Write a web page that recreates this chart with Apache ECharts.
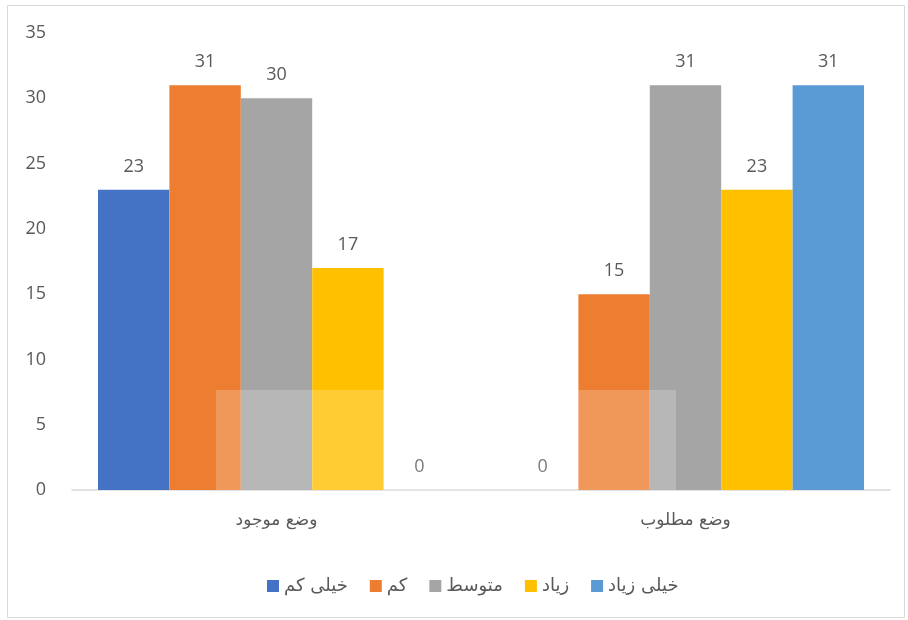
<!DOCTYPE html>
<html>
<head>
<meta charset="utf-8">
<script src="https://cdn.jsdelivr.net/npm/echarts@6/dist/echarts.min.js"></script>
<style>
  html, body { margin: 0; padding: 0; background: #fff; }
  #main { width: 908px; height: 620px; }
</style>
</head>
<body>
<div id="main"></div>
<script>
// دسته‌ها و سری‌ها
var categories = ['وضع موجود', 'وضع مطلوب'];
var seriesNames = ['خیلی کم', 'کم', 'متوسط', 'زیاد', 'خیلی زیاد'];
var veryLow = [23, 0];
var low = [31, 15];
var medium = [30, 31];
var high = [17, 23];
var veryHigh = [0, 31];
var yTicks = [0, 5, 10, 15, 20, 25, 30, 35];

var colors = ['#4472C4', '#ED7D31', '#A5A5A5', '#FFC000', '#5B9BD5'];
var allData = [veryLow, low, medium, high, veryHigh];

var chart = echarts.init(document.getElementById('main'));

var series = [];
for (var i = 0; i < seriesNames.length; i++) {
  series.push({
    name: seriesNames[i],
    type: 'bar',
    data: allData[i],
    barGap: '0%',
    barCategoryGap: '12.7%',
    label: {
      show: true,
      position: 'top',
      distance: 14,
      color: '#595959',
      fontSize: 18,
      fontFamily: 'Open Sans'
    }
  });
}

var option = {
  color: colors,
  animation: false,
  grid: {
    left: 72,
    right: 18,
    top: 33,
    bottom: 130
  },
  legend: {
    data: seriesNames,
    bottom: 20,
    left: 262,
    itemWidth: 12,
    itemHeight: 12,
    itemGap: 22,
    icon: 'rect',
    textStyle: {
      color: '#595959',
      fontSize: 18,
      fontFamily: 'DejaVu Sans'
    }
  },
  xAxis: {
    type: 'category',
    data: categories,
    axisTick: { show: false },
    axisLine: { lineStyle: { color: '#D9D9D9', width: 1.5 } },
    axisLabel: {
      color: '#595959',
      fontSize: 17,
      fontFamily: 'DejaVu Sans',
      margin: 22
    }
  },
  yAxis: {
    type: 'value',
    min: yTicks[0],
    max: yTicks[yTicks.length - 1],
    interval: 5,
    splitLine: { show: false },
    axisLine: { show: false },
    axisTick: { show: false },
    axisLabel: {
      color: '#595959',
      fontSize: 18,
      fontFamily: 'Open Sans',
      margin: 26
    }
  },
  graphic: [
    {
      type: 'rect',
      left: 5,
      top: 3,
      shape: { width: 897, height: 612 },
      style: { fill: 'none', stroke: '#D9D9D9', lineWidth: 1 },
      silent: true
    },
    {
      // کادر نیمه‌شفاف واترمارک
      type: 'rect',
      left: 216,
      top: 390,
      z: 100,
      shape: { width: 460, height: 100 },
      style: { fill: 'rgba(255,255,255,0.2)' },
      silent: true
    }
  ],
  series: series
};

chart.setOption(option);
</script>
</body>
</html>
